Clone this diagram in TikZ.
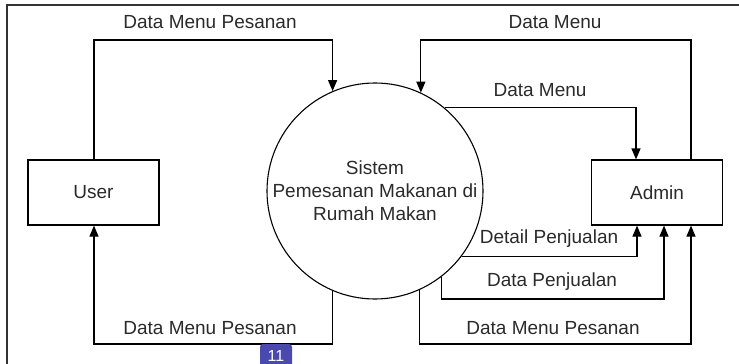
\documentclass[tikz,border=0pt]{standalone}
\usepackage{fontspec}
\setmainfont{Liberation Sans}
\usetikzlibrary{arrows.meta}
\definecolor{txt}{HTML}{2A2A2A}
\definecolor{badge}{HTML}{4A4AAE}
\tikzset{
  entity/.style={draw=black, line width=1.2pt, minimum width=131pt, minimum height=65pt, inner sep=0pt, font=\fontsize{19}{23}\selectfont, text=txt},
  proc/.style={draw=black, line width=1.1pt, circle, minimum size=216pt, inner sep=0pt, align=center, font=\fontsize{19}{23}\selectfont, text=txt},
  flow/.style={draw=black, line width=1.2pt, -{Triangle[length=11pt,width=9pt]}},
  lbl/.style={font=\fontsize{19}{23}\selectfont, text=txt, inner sep=0pt},
  frame/.style={draw=black!80, line width=1.6pt}
}
\begin{document}
\begin{tikzpicture}[x=1pt,y=-1pt]
\useasboundingbox (0,0) rectangle (739,364);
% outer frame (cropped)
\draw[frame] (7,380) -- (7,5) -- (760,5);
% nodes
\node[entity] (user) at (93.5,192.5) {User};
\node[entity] (admin) at (657,192.5) {Admin};
\node[proc] (sys) at (375,191) {Sistem\\Pemesanan Makanan di\\Rumah Makan};
% coordinates
\coordinate (uTop) at ([xshift=0.5pt]user.north);
\coordinate (uBot) at ([xshift=0.5pt]user.south);
\coordinate (aT1) at ([xshift=34pt]admin.north);
\coordinate (aT2) at ([xshift=-21pt]admin.north);
\coordinate (aB1) at ([xshift=-20pt]admin.south);
\coordinate (aB2) at ([xshift=7pt]admin.south);
\coordinate (aB3) at ([xshift=34pt]admin.south);
% flows
\draw[flow] (uTop) -- (uTop |- 0,40) -| (sys.113.5);
\node[lbl] (l1) at (210,22) {Data Menu Pesanan};
\draw[flow] (aT1) -- (aT1 |- 0,40) -| (sys.65.4);
\node[lbl] (l2) at (555,22) {Data Menu};
\draw[flow] (sys.50.2) -| (aT2);
\node[lbl] (l3) at (540,90) {Data Menu};
\draw[flow] (sys.-37) -| (aB1);
\node[lbl] (l4) at (549,239) {Detail Penjualan};
\draw[flow] (sys.-52.3) -- (sys.-52.3 |- 0,299) -| (aB2);
\node[lbl] (l5) at (552,282) {Data Penjualan};
\draw[flow] (sys.-66.5) -- (sys.-66.5 |- 0,344) -| (aB3);
\node[lbl] (l6) at (553,328) {Data Menu Pesanan};
\draw[flow] (sys.-113.5) -- (sys.-113.5 |- 0,344) -| (uBot);
\node[lbl] (l7) at (210,328) {Data Menu Pesanan};
% page badge
\fill[badge, rounded corners=3pt] (260,344) rectangle (292,375);
\node[font=\fontsize{16}{19}\selectfont, text=white, inner sep=0pt] (pg) at (276,355.5) {11};
\end{tikzpicture}
\end{document}
